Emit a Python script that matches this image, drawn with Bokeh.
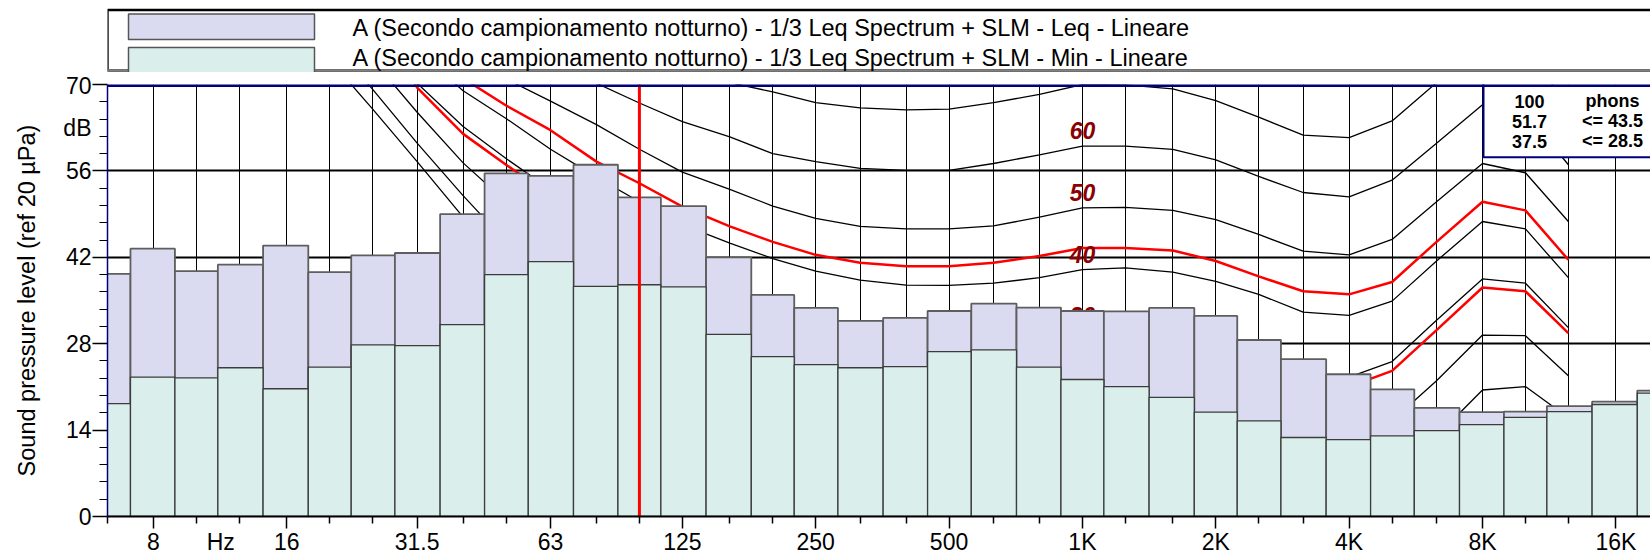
import math
from bokeh.plotting import figure
from bokeh.layouts import column
from bokeh.models import FixedTicker, Span, Range1d, LogAxis, LinearAxis
from bokeh.core.properties import value
from bokeh.embed import file_html
from bokeh.resources import INLINE

# ---------------- data ----------------
BAND_FREQ = [6.3, 8, 10, 12.5, 16, 20, 25, 31.5, 40, 50, 63, 80, 100, 125, 160, 200, 250,
             315, 400, 500, 630, 800, 1000, 1250, 1600, 2000, 2500, 3150, 4000, 5000,
             6300, 8000, 10000, 12500, 16000, 20000]
LEQ = [39.3, 43.4, 39.75, 40.8, 43.9, 39.6, 42.3, 42.7, 49.0, 55.6, 55.2, 57.0, 51.7, 50.3,
       42.0, 35.9, 33.8, 31.7, 32.2, 33.3, 34.5, 33.85, 33.3, 33.25, 33.8, 32.5, 28.6, 25.5,
       23.05, 20.6, 17.6, 16.9, 17.0, 17.9, 18.6, 20.4]
MIN = [18.3, 22.6, 22.45, 24.1, 20.7, 24.2, 27.8, 27.7, 31.1, 39.2, 41.3, 37.3, 37.55, 37.2,
       29.5, 25.9, 24.6, 24.1, 24.3, 26.7, 27.0, 24.2, 22.2, 21.05, 19.3, 16.9, 15.5, 12.8,
       12.46, 13.05, 13.9, 14.9, 16.05, 17.0, 18.15, 20.0]

TICK_FREQ = [8, 11.35, 16, 31.5, 63, 125, 250, 500, 1000, 2000, 4000, 8000, 16000]
TICK_LABELS = ["8", "Hz", "16", "31.5", "63", "125", "250", "500", "1K", "2K", "4K", "8K", "16K"]
OCTAVE_FREQ = [8, 16, 31.5, 63, 125, 250, 500, 1000, 2000, 4000, 8000, 16000]
MINOR_FREQ = [6.3, 10, 12.5, 20, 25, 40, 50, 80, 100, 160, 200, 315, 400, 630, 800, 1250,
              1600, 2500, 3150, 5000, 6300, 10000, 12500]
GRID_FREQ = [8, 10, 12.5, 16, 20, 25, 31.5, 40, 50, 63, 80, 100, 125, 160, 200, 250, 315, 400,
             500, 630, 800, 1000, 1250, 1600, 2000, 2500, 3150, 4000, 5000, 6300, 8000, 10000,
             12500, 16000]
Y_TICKS = [0, 14, 28, 42, 56, 70]
Y_LABEL_POS = [0, 14, 28, 42, 56, 63, 70]
Y_LABELS = ["0", "14", "28", "42", "56", "dB", "70"]
Y_MINOR = [2.8, 5.6, 8.4, 11.2, 16.8, 19.6, 22.4, 25.2, 30.8, 33.6, 36.4, 39.2, 44.8, 47.6,
           50.4, 53.2, 58.8, 61.6, 64.4, 67.2]
Y_GRID = [28, 42, 56]

CONTOUR_FREQ = [20, 25, 31.5, 40, 50, 63, 80, 100, 125, 160, 200, 250, 315, 400, 500, 630,
                800, 1000, 1250, 1600, 2000, 2500, 3150, 4000, 5000, 6300, 8000, 10000, 12500]
PHON_0 = [74, 66, 57.5, 48.5, 41, 34.5, 28.5, 23.5, 19, 15, 11.5, 8.5, 6, 4, 2.5, 1.2, 0.4,
          0, 0.3, -0.4, -1.9, -4, -6.5, -7, -4, 3, 11, 12, 6]
PHON_10 = [77, 69.2, 60.5, 52, 44.5, 38.5, 33, 28.5, 24.5, 20.5, 17.5, 15, 13, 11.5, 10.5, 10.0,
           9.8, 10, 10.3, 9.6, 8.1, 6, 3.5, 3, 6, 13, 20.5, 21.05, 16]
PHON_20 = [82, 74, 65.5, 57.3, 51, 46, 41, 36.5, 32.5, 29, 26.3, 24, 22.2, 20.8, 20, 19.6,
           19.5, 20, 20.3, 19.6, 18.1, 16, 13.3, 12.7, 15.5, 22.0, 29.4, 29.3, 22.8]
PHON_30 = [88, 79, 70.2, 63.2, 58, 53, 48.2, 43.7, 39.8, 36.3, 33.5, 31.2, 29.6, 28.7, 28.3,
           28.4, 28.8, 30, 30.3, 29.6, 28.1, 26, 23.2, 22.6, 25.1, 31.8, 38.5, 37.8, 30.6]
PHON_40 = [89, 82, 75.5, 69, 64.5, 59.5, 55, 51, 47.3, 44.3, 41.8, 39.75, 38.3, 37.5, 37.45,
           37.8, 38.7, 40, 40.3, 39.6, 38.1, 36.0, 33.1, 32.6, 34.9, 41.4, 47.8, 46.6, 38.7]
PHON_50 = [100, 92, 85, 78, 70.9, 67.3, 63.5, 59.5, 55.8, 53.0, 50.3, 48.3, 47.0, 46.6, 46.6,
           47.1, 48.5, 50, 50.1, 49.6, 48.1, 45.7, 43.0, 42.4, 44.9, 51, 57.2, 55.7, 47.8]
PHON_60 = [105, 98, 92, 86, 80, 75, 70.2, 67, 64, 61.5, 58.8, 57.5, 56.4, 56.1, 56.1, 57.2,
           58.6, 60, 60.0, 59.5, 57.8, 55.1, 52.5, 51.8, 54.5, 60.5, 66.7, 65.5, 57]
PHON_70 = [110, 104, 98, 92, 87, 83, 79, 75.5, 72.5, 70.3, 68.8, 67.05, 66.2, 65.9, 66.0,
           67.05, 68.4, 70, 69.95, 69.3, 67.4, 64.7, 61.8, 61.4, 64.1, 70.3, 76, 75, 67]
BLACK_CONTOURS = [PHON_0, PHON_10, PHON_20, PHON_30, PHON_40, PHON_50, PHON_60, PHON_70]
RED_435 = [100, 90, 83, 71, 66.6, 62.6, 57.5, 54.0, 50.2, 47.0, 44.5, 42.4, 41.1, 40.55, 40.55,
           41.1, 42.2, 43.5, 43.5, 43.1, 41.4, 38.9, 36.5, 36.0, 38.0, 44.5, 51.0, 49.6, 41.6]
RED_285 = [92, 81, 69.5, 62.0, 57.0, 52.0, 46.5, 42.4, 38.8, 34.9, 32.5, 30.1, 28.7, 27.8, 27.1,
           27.1, 27.55, 28.5, 28.6, 28.1, 26.6, 24.4, 21.5, 21.05, 23.6, 30.2, 37.1, 36.5, 29.7]
RED_CONTOURS = [RED_435, RED_285]
CONTOUR_LABELS = ["60", "50", "40", "30"]
CONTOUR_LABEL_LEVELS = [60, 50, 40, 30]
CONTOUR_LABEL_FREQ = 1000

MARKER_FREQ = 100
LEGEND_LABELS = [
    "A (Secondo campionamento notturno) - 1/3 Leq Spectrum + SLM - Leq - Lineare",
    "A (Secondo campionamento notturno) - 1/3 Leq Spectrum + SLM - Min - Lineare",
]
PHON_TABLE_LEFT = ["100", "51.7", "37.5"]
PHON_TABLE_RIGHT = ["phons", "<= 43.5", "<= 28.5"]
Y_TITLE = "Sound pressure level (ref 20 \u00b5Pa)"

# ---------------- layout geometry ----------------
W, H = 1650, 557
LEG_H = 72                 # legend strip height (px)
FRAME_L = 107              # frame left (px)
FRAME_T = 84               # frame top (absolute px)
FRAME_B = 518              # frame bottom (absolute px)
PX_PER_OCT = 133.36
Y_MIN, Y_MAX = 0, 70
PX_PER_DB = (FRAME_B - FRAME_T) / (Y_MAX - Y_MIN)
X_START = 6.3
X_END = X_START * 2 ** ((W - FRAME_L) / PX_PER_OCT)
FAR_RIGHT = X_END * 4
FONT = "Liberation Sans"


def px2x(px):
    return X_START * 2 ** ((px - FRAME_L) / PX_PER_OCT)


def px2y(py):
    return (FRAME_B - py) / PX_PER_DB


LEQ_FILL, LEQ_LINE = "#dadaf1", "#5e5e5e"
MIN_FILL, MIN_LINE = "#daefeb", "#3c3c3c"
NAVY = "#00007f"

# ================= legend strip (frame aligned with the chart frame) =================
lg = figure(width=W, height=LEG_H, output_backend="svg", toolbar_location=None,
            x_range=Range1d(FRAME_L, W), y_range=Range1d(LEG_H, 0),
            x_axis_location=None, y_axis_location=None,
            min_border_left=FRAME_L, min_border_right=0, min_border_top=0,
            min_border_bottom=0)
lg.outline_line_color = None
lg.grid.visible = False
lg.background_fill_color = "white"
lg.border_fill_color = "white"
lg.quad(left=[FRAME_L], right=[W + 50], top=[9.5], bottom=[70], fill_color="white",
        line_color="black", line_width=2.4)
lg.segment(x0=[FRAME_L], y0=[70], x1=[W + 50], y1=[70], line_color="#808080", line_width=2.5)
lg.quad(left=[128, 128], right=[314, 314], top=[13.5, 47], bottom=[39, 72.5],
        fill_color=[LEQ_FILL, MIN_FILL], line_color="#555555", line_width=1.5)
lg.text(x=[352, 352], y=[27, 57], text=LEGEND_LABELS, text_font=value(FONT),
        text_font_size="23.5px", text_color="black", text_align="left",
        text_baseline="middle")

# ================= main chart =================
p = figure(width=W, height=H - LEG_H, x_axis_type="log", output_backend="svg",
           toolbar_location=None, x_range=Range1d(X_START, X_END),
           y_range=Range1d(Y_MIN, Y_MAX), min_border_left=FRAME_L, min_border_right=0,
           min_border_top=FRAME_T - LEG_H, min_border_bottom=H - FRAME_B)
p.outline_line_color = None
p.background_fill_color = "white"
p.border_fill_color = "white"

# grids
p.xgrid.ticker = FixedTicker(ticks=GRID_FREQ)
p.xgrid.grid_line_color = "black"
p.xgrid.grid_line_width = 1
p.ygrid.ticker = FixedTicker(ticks=Y_GRID)
p.ygrid.grid_line_color = "black"
p.ygrid.grid_line_width = 2

# tick-mark axes (next to the frame, labels not drawn)
xa = p.xaxis[0]
xa.ticker = FixedTicker(ticks=OCTAVE_FREQ, minor_ticks=MINOR_FREQ)
xa.axis_line_color = "black"
xa.axis_line_width = 2
xa.major_tick_out = 12
xa.major_tick_in = 0
xa.minor_tick_out = 7
xa.minor_tick_in = 0
xa.major_tick_line_width = 1.5
xa.minor_tick_line_width = 1.5
xa.major_tick_line_color = "black"
xa.minor_tick_line_color = "black"
xa.major_label_text_font_size = "1px"
xa.major_label_text_color = None
xa.major_label_standoff = 0

ya = p.yaxis[0]
ya.ticker = FixedTicker(ticks=Y_TICKS, minor_ticks=Y_MINOR)
ya.axis_line_color = NAVY
ya.axis_line_width = 1.5
ya.major_tick_out = 15
ya.major_tick_in = 0
ya.minor_tick_out = 8
ya.minor_tick_in = 0
ya.major_tick_line_color = "black"
ya.minor_tick_line_color = "black"
ya.major_tick_line_width = 1.5
ya.minor_tick_line_width = 1.2
ya.major_label_text_font_size = "1px"
ya.major_label_text_color = None
ya.major_label_standoff = 0

# label axes (outside the tick axes)
xl = LogAxis(ticker=FixedTicker(ticks=TICK_FREQ, minor_ticks=[]),
             major_label_overrides={f: s for f, s in zip(TICK_FREQ, TICK_LABELS)},
             axis_line_color=None, major_tick_line_color=None, minor_tick_line_color=None,
             major_tick_out=0, major_tick_in=0, minor_tick_out=0, minor_tick_in=0,
             major_label_standoff=0, major_label_text_font=FONT,
             major_label_text_font_size="23px", major_label_text_color="black")
p.add_layout(xl, "below")
yl = LinearAxis(ticker=FixedTicker(ticks=Y_LABEL_POS, minor_ticks=[]),
                major_label_overrides={v: s for v, s in zip(Y_LABEL_POS, Y_LABELS)},
                axis_line_color=None, major_tick_line_color=None, minor_tick_line_color=None,
                major_tick_out=0, major_tick_in=0, minor_tick_out=0, minor_tick_in=0,
                major_label_standoff=1, major_label_text_font=FONT,
                major_label_text_font_size="23px", major_label_text_color="black",
                axis_label=Y_TITLE, axis_label_text_font=FONT,
                axis_label_text_font_size="23.5px", axis_label_text_font_style="normal",
                axis_label_text_color="black", axis_label_standoff=20)
p.add_layout(yl, "left")

# equal loudness contours (behind bars)
for vals in BLACK_CONTOURS:
    p.line(CONTOUR_FREQ, vals, line_color="black", line_width=1.3)
for vals in RED_CONTOURS:
    p.line(CONTOUR_FREQ, vals, line_color="#ff0000", line_width=2.5)

p.text(x=[CONTOUR_LABEL_FREQ] * len(CONTOUR_LABELS),
       y=[lv + 2.5 for lv in CONTOUR_LABEL_LEVELS], text=CONTOUR_LABELS,
       text_font=value(FONT), text_font_style="bold italic", text_font_size="23px",
       text_color="#8b0000", text_align="center", text_baseline="middle")

# 1/3 octave bars
edges = [math.sqrt(a * b) for a, b in zip(BAND_FREQ[:-1], BAND_FREQ[1:])]
lefts = [BAND_FREQ[0] ** 1.5 / BAND_FREQ[1] ** 0.5] + edges
rights = edges + [BAND_FREQ[-1] ** 1.5 / BAND_FREQ[-2] ** 0.5]
p.quad(left=lefts, right=rights, bottom=0, top=LEQ, fill_color=LEQ_FILL,
       line_color=LEQ_LINE, line_width=1.8)
p.quad(left=lefts, right=rights, bottom=0, top=MIN, fill_color=MIN_FILL,
       line_color=MIN_LINE, line_width=1.3)

# marker line
p.segment(x0=[MARKER_FREQ], y0=[Y_MIN], x1=[MARKER_FREQ], y1=[Y_MAX],
          line_color="#ff0000", line_width=3)

# phons box
p.quad(left=[px2x(1483)], right=[FAR_RIGHT], bottom=[px2y(157)], top=[Y_MAX + 5],
       fill_color="white", line_color=NAVY, line_width=2)
rows_y = [px2y(101), px2y(121), px2y(141)]
p.text(x=[px2x(1529)] * 3, y=rows_y, text=PHON_TABLE_LEFT,
       text_font=value(FONT), text_font_style="bold", text_font_size="18px",
       text_color="black", text_align="center", text_baseline="middle")
p.text(x=[px2x(1612)] * 3, y=rows_y, text=PHON_TABLE_RIGHT,
       text_font=value(FONT), text_font_style="bold", text_font_size="18px",
       text_color="black", text_align="center", text_baseline="middle")

# frame top border
p.add_layout(Span(location=Y_MAX, dimension="width", line_color=NAVY, line_width=5))

layout = column(lg, p, spacing=0)
open("out.html", "w").write(file_html(layout, INLINE))
